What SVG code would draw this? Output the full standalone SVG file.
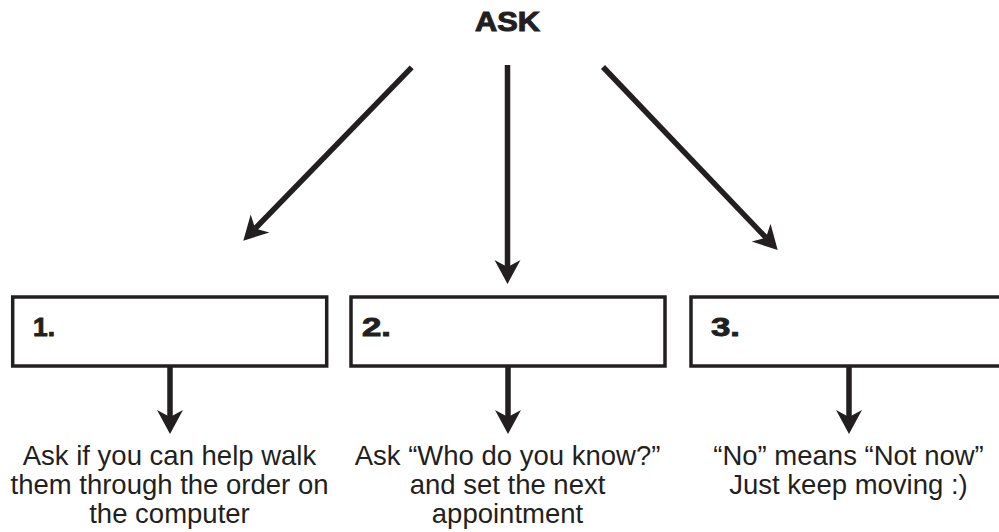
<svg xmlns="http://www.w3.org/2000/svg" width="999" height="532" viewBox="0 0 999 532">
<style>
.box{fill:#fff;stroke:#231f20;stroke-width:3.5}
.ln{stroke:#231f20;stroke-width:5.5;fill:none}
.ah{fill:#231f20}
.lbl{font-family:"Liberation Sans",Arial,sans-serif;font-weight:bold;font-size:25px;fill:#231f20;stroke:#231f20;stroke-width:0.9}
.txt{font-family:"Liberation Sans",Arial,sans-serif;font-size:27.5px;fill:#231f20;text-anchor:middle}
.title{font-family:"Liberation Sans",Arial,sans-serif;font-weight:bold;font-size:27px;fill:#231f20;text-anchor:middle;stroke:#231f20;stroke-width:1}
</style>
<rect width="999" height="532" fill="#fff"/>
<g id="ask"><text class="title" x="507.5" y="31" textLength="65" lengthAdjust="spacingAndGlyphs">ASK</text></g>
<g id="box1"><rect class="box" x="12.7" y="297" width="314" height="69"/><text class="lbl" x="33" y="336" textLength="22" lengthAdjust="spacingAndGlyphs">1.</text></g>
<g id="box2"><rect class="box" x="351" y="297" width="314" height="69"/><text class="lbl" x="362" y="336" textLength="29" lengthAdjust="spacingAndGlyphs">2.</text></g>
<g id="box3"><rect class="box" x="691" y="297" width="330" height="69"/><text class="lbl" x="711" y="336" textLength="29" lengthAdjust="spacingAndGlyphs">3.</text></g>
<g id="text1"><text class="txt" x="169.5" y="465">Ask if you can help walk</text><text class="txt" x="169.5" y="494">them through the order on</text><text class="txt" x="169.5" y="523">the computer</text></g>
<g id="text2"><text class="txt" x="507.5" y="465">Ask “Who do you know?”</text><text class="txt" x="507.5" y="494">and set the next</text><text class="txt" x="507.5" y="523">appointment</text></g>
<g id="text3"><text class="txt" x="848.5" y="465">“No” means “Not now”</text><text class="txt" x="848.5" y="494">Just keep moving :)</text></g>
<g id="connectors">
<line class="ln" x1="411.7" y1="67.3" x2="255.15" y2="228.51"/>
<polygon class="ah" points="243.3,240.7 269.35,232.55 255.15,228.51 250.71,214.43"/>
<line class="ln" x1="507.5" y1="65" x2="507.5" y2="267"/>
<polygon class="ah" points="507.5,284 494.5,260 507.5,267 520.5,260"/>
<line class="ln" x1="603" y1="67" x2="765.97" y2="237.71"/>
<polygon class="ah" points="777.7,250 751.74,241.62 765.97,237.71 770.54,223.68"/>
<line class="ln" x1="170" y1="367" x2="170" y2="417"/>
<polygon class="ah" points="170,434 157,410 170,417 183,410"/>
<line class="ln" x1="508" y1="367" x2="508" y2="417"/>
<polygon class="ah" points="508,434 495,410 508,417 521,410"/>
<line class="ln" x1="849" y1="367" x2="849" y2="417"/>
<polygon class="ah" points="849,434 836,410 849,417 862,410"/>
</g>
</svg>
